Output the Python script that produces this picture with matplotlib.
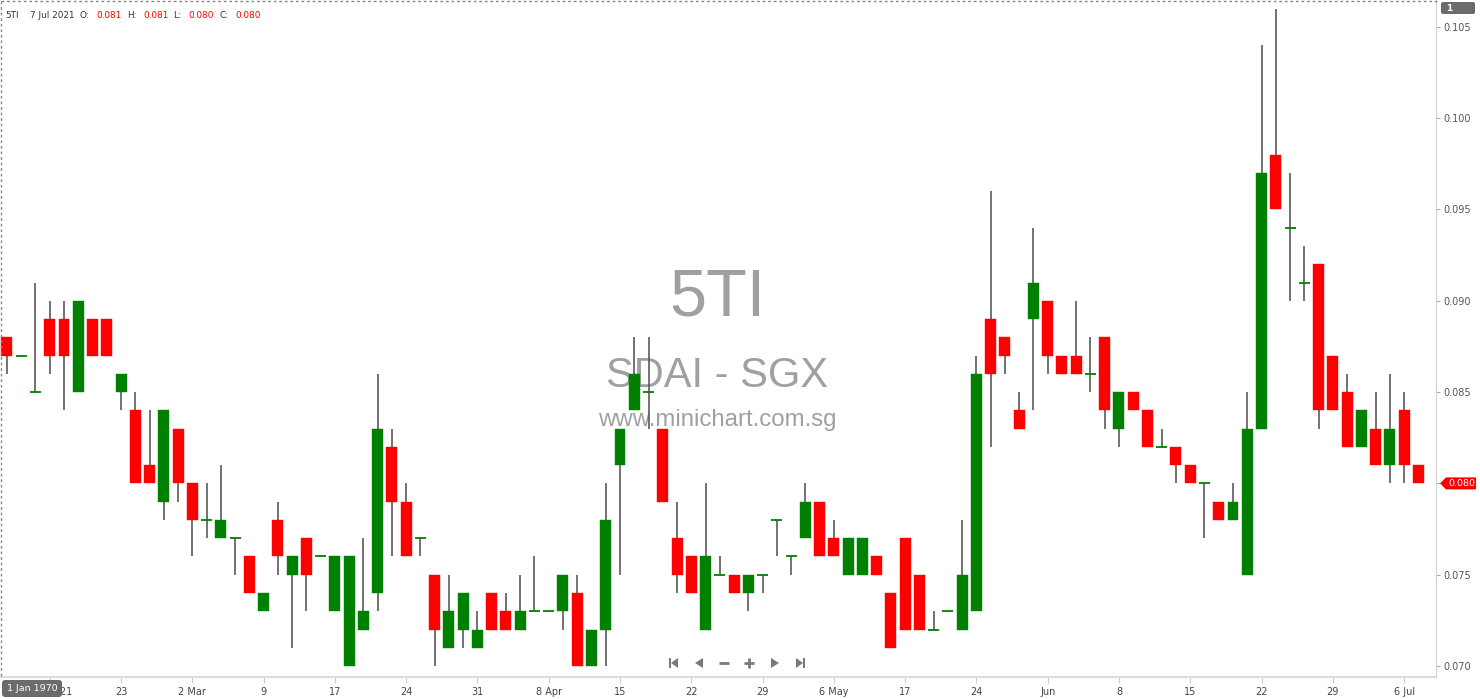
import matplotlib
matplotlib.use("Agg")
import matplotlib.pyplot as plt
from matplotlib.patches import Polygon, FancyBboxPatch

# ---- data (prices in SGD) ----
opens = [88, 87, 85, 89, 89, 85, 89, 89, 85, 84, 81, 79, 83, 80, 78, 77, 77, 76, 73, 78,
         75, 77, 76, 73, 70, 72, 74, 82, 79, 77, 75, 71, 72, 71, 74, 73, 72, 73, 73, 73,
         74, 70, 72, 81, 84, 85, 83, 77, 76, 72, 75, 75, 74, 75, 78, 76, 77, 79, 77, 75,
         75, 76, 74, 77, 75, 72, 73, 72, 73, 89, 88, 84, 89, 90, 87, 87, 86, 88, 83, 85,
         84, 82, 82, 81, 80, 79, 78, 75, 83, 98, 94, 91, 92, 87, 85, 82, 83, 81, 84, 81]
highs = [88, 87, 91, 90, 90, 90, 89, 89, 86, 85, 84, 84, 83, 80, 80, 81, 77, 76, 74, 79,
         76, 77, 76, 76, 76, 77, 86, 83, 80, 77, 75, 75, 74, 73, 74, 74, 75, 76, 73, 75,
         75, 72, 80, 83, 88, 88, 83, 79, 76, 80, 76, 75, 75, 75, 78, 76, 80, 79, 78, 77,
         77, 76, 74, 77, 75, 73, 73, 78, 87, 96, 88, 85, 94, 90, 87, 90, 88, 88, 85, 85,
         84, 83, 82, 81, 80, 79, 80, 85, 104, 106, 97, 93, 92, 87, 86, 84, 85, 86, 85, 81]
lows = [86, 87, 85, 86, 84, 85, 87, 87, 84, 80, 80, 78, 79, 76, 77, 77, 75, 74, 73, 75,
        71, 73, 76, 73, 70, 72, 73, 76, 76, 76, 70, 71, 71, 71, 72, 72, 72, 73, 73, 72,
        70, 70, 70, 75, 84, 83, 79, 74, 74, 72, 75, 74, 73, 74, 76, 75, 77, 76, 76, 75,
        75, 75, 71, 72, 72, 72, 73, 72, 73, 82, 86, 83, 84, 86, 86, 86, 85, 83, 82, 84,
        82, 82, 80, 80, 77, 78, 78, 75, 83, 95, 90, 90, 83, 84, 82, 82, 81, 80, 80, 80]
closes = [87, 87, 85, 87, 87, 90, 87, 87, 86, 80, 80, 84, 80, 78, 78, 78, 77, 74, 74, 76,
          76, 75, 76, 76, 76, 73, 83, 79, 76, 77, 72, 73, 74, 72, 72, 72, 73, 73, 73, 75,
          70, 72, 78, 83, 86, 85, 79, 75, 74, 76, 75, 74, 75, 75, 78, 76, 79, 76, 76, 77,
          77, 75, 71, 72, 72, 72, 73, 75, 86, 86, 87, 83, 91, 87, 86, 86, 86, 84, 85, 84,
          82, 82, 81, 80, 80, 78, 79, 83, 97, 95, 94, 91, 84, 84, 82, 84, 81, 83, 81, 80]
opens = [v / 1000 for v in opens]
highs = [v / 1000 for v in highs]
lows = [v / 1000 for v in lows]
closes = [v / 1000 for v in closes]

x_tick_pos = list(range(3, 100, 5))
x_tick_labels = ["Feb 2021", "23", "2 Mar", "9", "17", "24", "31", "8 Apr", "15", "22",
                 "29", "6 May", "17", "24", "Jun", "8", "15", "22", "29", "6 Jul"]
y_ticks = [0.070, 0.075, 0.080, 0.085, 0.090, 0.095, 0.100, 0.105]
symbol = "5TI"
company = "SDAI - SGX"
site = "www.minichart.com.sg"
last_date = "7 Jul 2021"

UP = "#008000"
DOWN = "#ff0000"
WICK = "#5a5a5a"

W, H = 1480, 699
fig = plt.figure(figsize=(W / 100, H / 100), dpi=100)
fig.patch.set_facecolor("white")
ax = fig.add_axes([0, 22 / H, 1436 / W, 677 / H])
ax.set_facecolor("white")

n = len(opens)
xs = list(range(n))
bw = 0.77

# wicks
ax.vlines(xs, lows, highs, color=WICK, lw=1.2, zorder=2)
# bodies
for i in xs:
    o, c = opens[i], closes[i]
    if c == o:
        ax.hlines(o, i - bw / 2, i + bw / 2, color=UP, lw=1.3, zorder=3)
    else:
        col = UP if c > o else DOWN
        ax.bar(i, abs(c - o), bottom=min(o, c), width=bw, color=col,
               edgecolor=col, linewidth=0.3, zorder=3)

ax.set_xlim(-0.49, 100.24)
ax.set_ylim(0.06940, 0.10647)

last_close = closes[-1]
ax.yaxis.tick_right()
ax.set_yticks(y_ticks)
# the tick label under the last-price tag is hidden by the tag itself
ax.set_yticklabels(["" if abs(v - last_close) < 1e-9 else f"{v:.3f}" for v in y_ticks])
ax.tick_params(axis="y", length=3, width=0.8, color="#aaaaaa", labelsize=7,
               labelcolor="#555555", pad=2)
ax.set_xticks(x_tick_pos)
ax.set_xticklabels(x_tick_labels)
ax.tick_params(axis="x", length=4, width=0.8, color="#cccccc", labelsize=7,
               labelcolor="#444444", pad=3)
for s in ["top", "left"]:
    ax.spines[s].set_visible(False)
ax.spines["right"].set_color("#d0d0d0")
ax.spines["bottom"].set_color("#dddddd")
ax.spines["bottom"].set_linewidth(1.5)

# watermark (behind candles), placed in figure pixel coordinates
def fig_px(x, y):
    return (x / W, 1 - y / H)

for txt, yb, fs in [(symbol, 315, 48), (company, 387, 30), (site, 426, 17.3)]:
    fx, fy = fig_px(717, yb)
    ax.text(fx, fy, txt, transform=fig.transFigure, ha="center", va="baseline",
            fontsize=fs, color="#a0a0a0", family="Liberation Sans", zorder=0)

# overlay in pixel coordinates for chart furniture
ov = fig.add_axes([0, 0, 1, 1], zorder=10)
ov.set_xlim(0, W)
ov.set_ylim(H, 0)
ov.axis("off")
ov.patch.set_alpha(0)

# dotted border
ov.plot([0.5, 1437], [0.5, 0.5], color="#888888", lw=1, ls=(0, (2, 2)))
ov.plot([0.5, 0.5], [0.5, 679], color="#888888", lw=1, ls=(0, (2, 2)))

# header
hdr = [(5, symbol, "#333333"), (30, last_date, "#333333"),
       (79, "O:", "#333333"), (96, f"{opens[-1]:.3f}", DOWN),
       (127, "H:", "#333333"), (143, f"{highs[-1]:.3f}", DOWN),
       (173, "L:", "#333333"), (188, f"{lows[-1]:.3f}", DOWN),
       (219, "C:", "#333333"), (235, f"{closes[-1]:.3f}", DOWN)]
for x, t, c in hdr:
    ov.text(x, 15, t, color=c, fontsize=6.4, va="center", ha="left")

# "1" badge on price axis
ov.add_patch(FancyBboxPatch((1441, 2), 34, 12, boxstyle="round,pad=0,rounding_size=2",
                            color="#6b6b6b", lw=0))
ov.text(1446, 8.5, "1", color="white", fontsize=6.5, va="center", ha="left",
        fontweight="bold")

# last price tag
fig.canvas.draw()
ypix = H - ax.transData.transform((0, last_close))[1]
ov.add_patch(Polygon([(1440, ypix), (1446, ypix - 6), (1476, ypix - 6),
                      (1476, ypix + 6), (1446, ypix + 6)], closed=True,
                     color=DOWN, lw=0))
ov.text(1448, ypix + 0.5, f"{last_close:.3f}", color="white", fontsize=6.8,
        va="center", ha="left")

# "1 Jan 1970" box
ov.add_patch(FancyBboxPatch((2, 680), 60, 17, boxstyle="round,pad=0,rounding_size=3",
                            color="#6b6b6b", lw=0))
ov.text(32, 688.5, "1 Jan 1970", color="white", fontsize=6.8, va="center", ha="center")

# navigation icons
NAV = "#7a7a7a"
cy = 663
ov.add_patch(Polygon([(669, cy - 5), (671, cy - 5), (671, cy + 5), (669, cy + 5)], color=NAV, lw=0))
ov.add_patch(Polygon([(678, cy - 5), (678, cy + 5), (671, cy)], color=NAV, lw=0))
ov.add_patch(Polygon([(703, cy - 5), (703, cy + 5), (695, cy)], color=NAV, lw=0))
ov.plot([719, 729], [cy, cy], color=NAV, lw=2, solid_capstyle="butt")
ov.plot([744, 754], [cy, cy], color=NAV, lw=2, solid_capstyle="butt")
ov.plot([749, 749], [cy - 5, cy + 5], color=NAV, lw=2, solid_capstyle="butt")
ov.add_patch(Polygon([(771, cy - 5), (771, cy + 5), (779, cy)], color=NAV, lw=0))
ov.add_patch(Polygon([(796, cy - 5), (796, cy + 5), (803, cy)], color=NAV, lw=0))
ov.add_patch(Polygon([(803, cy - 5), (805, cy - 5), (805, cy + 5), (803, cy + 5)], color=NAV, lw=0))

fig.savefig("out.png", dpi=100, facecolor="white")
